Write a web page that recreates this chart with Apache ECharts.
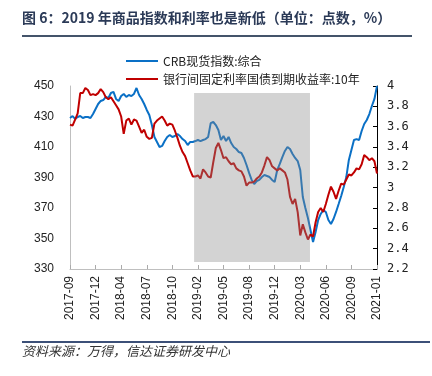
<!DOCTYPE html>
<html>
<head>
<meta charset="utf-8">
<style>
  html, body { margin: 0; padding: 0; background: #fff; }
  #chart { width: 432px; height: 376px; }
</style>
<script src="https://cdn.jsdelivr.net/npm/echarts@6/dist/echarts.min.js"></script>
</head>
<body>
<div id="chart"></div>
<script>
// 横轴刻度标签（每 10 个数据点一个）
const tickLabels = ['2017-09', '2017-12', '2018-04', '2018-07', '2018-10', '2019-02', '2019-05',
	'2019-08', '2019-12', '2020-03', '2020-06', '2020-09', '2021-01'];
const tickStep = 10;

// CRB现货指数:综合（左轴，点数）
const crbIndex = [
	429.0, 430.3, 428.4, 429.7, 430.3, 429.0, 429.7, 429.7, 429.0, 431.6,
	434.9, 438.2, 440.2, 440.8, 442.8, 442.1, 445.4, 446.1, 441.5, 440.2,
	443.4, 444.8, 442.8, 444.1, 443.4, 444.8, 448.7, 444.1, 441.5, 438.2,
	434.3, 431.0, 424.4, 416.6, 413.3, 410.0, 410.7, 413.9, 416.6, 417.9,
	416.6, 417.2, 418.5, 417.2, 415.2, 413.9, 411.3, 413.3, 413.3, 413.9,
	414.6, 413.9, 414.6, 415.2, 416.6, 425.7, 426.4, 424.4, 421.2, 414.6,
	417.2, 413.9, 416.6, 412.6, 410.0, 408.7, 406.7, 406.1, 402.8, 398.2,
	393.0, 388.4, 385.7, 387.7, 388.4, 390.3, 391.6, 391.0, 390.3, 388.4,
	387.1, 394.9, 398.9, 403.4, 407.4, 410.0, 408.7, 405.4, 402.8, 400.8,
	394.9, 377.2, 370.0, 363.4, 355.6, 347.7, 354.3, 362.1, 366.1, 368.7,
	367.4, 362.1, 359.5, 362.8, 367.4, 372.6, 377.9, 383.8, 390.3, 401.5,
	408.0, 414.6, 415.2, 414.6, 420.5, 425.1, 427.7, 431.6, 436.9, 441.5,
	450.0,
];

// 银行间固定利率国债到期收益率:10年（右轴，%）
const bondYield10y = [
	3.62, 3.61, 3.67, 3.73, 3.93, 3.93, 3.98, 3.96, 3.91, 3.92,
	3.91, 3.93, 3.97, 3.94, 3.89, 3.87, 3.89, 3.85, 3.81, 3.77,
	3.70, 3.53, 3.66, 3.68, 3.62, 3.67, 3.66, 3.60, 3.54, 3.57,
	3.50, 3.48, 3.49, 3.63, 3.66, 3.68, 3.70, 3.66, 3.61, 3.63,
	3.62, 3.56, 3.49, 3.41, 3.35, 3.31, 3.24, 3.17, 3.11, 3.11,
	3.12, 3.09, 3.18, 3.15, 3.11, 3.10, 3.25, 3.39, 3.44, 3.37,
	3.29, 3.30, 3.26, 3.23, 3.24, 3.19, 3.17, 3.16, 3.11, 3.02,
	3.05, 3.05, 3.06, 3.09, 3.11, 3.15, 3.22, 3.30, 3.27, 3.21,
	3.19, 3.17, 3.19, 3.17, 3.15, 3.08, 2.91, 2.84, 2.89, 2.76,
	2.53, 2.64, 2.56, 2.49, 2.54, 2.52, 2.66, 2.76, 2.80, 2.76,
	2.84, 2.93, 3.01, 2.96, 2.89, 2.97, 3.04, 3.03, 3.08, 3.13,
	3.12, 3.15, 3.19, 3.18, 3.23, 3.32, 3.30, 3.27, 3.29, 3.26,
	3.14,
];

// 阴影区间（数据点序号）与纵向范围（左轴点数）
const shadeFrom = 48.5;
const shadeTo = 93.8;
const shadeLow = 334.6;
const shadeHigh = 445.4;

const myChart = echarts.init(document.getElementById('chart'));
const cjk = '"Noto Sans CJK SC", sans-serif';

myChart.setOption({
	animation: false,
	grid: { left: 70, right: 55, top: 86, bottom: 107 },
	legend: {
		orient: 'vertical',
		left: 120,
		top: 50,
		itemWidth: 32,
		itemHeight: 14,
		itemGap: 6,
		// 只要线，不要圆点
		itemStyle: { opacity: 0, borderWidth: 0 },
		textStyle: { fontFamily: cjk, fontSize: 12, color: '#222' },
		data: ['CRB现货指数:综合', '银行间固定利率国债到期收益率:10年'],
	},
	xAxis: {
		type: 'value',
		min: 0,
		max: (tickLabels.length - 1) * tickStep,
		interval: tickStep,
		splitLine: { show: false },
		axisLine: { lineStyle: { color: '#bfbfbf', width: 1 } },
		axisTick: { show: true, inside: true, length: 4, lineStyle: { color: '#aaa' } },
		axisLabel: {
			rotate: 90,
			margin: 7,
			fontFamily: '"Liberation Sans", Arial, sans-serif',
			fontSize: 12,
			color: '#222',
			formatter: (v) => tickLabels[Math.round(v / tickStep)] || '',
		},
	},
	yAxis: [
		{
			type: 'value',
			min: 330,
			max: 450,
			interval: 10,
			splitLine: { show: false },
			axisLine: { show: true, lineStyle: { color: '#bfbfbf' } },
			axisTick: { show: false },
			axisLabel: {
				margin: 16,
				fontFamily: '"Liberation Sans", Arial, sans-serif',
				fontSize: 12,
				color: '#222',
				formatter: (v) => ((v - 330) % 20 === 0 ? String(v) : ''),
			},
		},
		{
			type: 'value',
			position: 'right',
			min: 2.2,
			max: 4,
			interval: 0.2,
			splitLine: { show: false },
			axisLine: { show: true, lineStyle: { color: '#000' } },
			axisTick: { show: true, inside: true, length: 4, lineStyle: { color: '#000' } },
			axisLabel: {
				margin: 10,
				fontFamily: '"DejaVu Sans Mono", monospace',
				fontSize: 12,
				color: '#222',
				formatter: (v) => String(parseFloat(v.toFixed(1))),
			},
		},
	],
	series: [
		{
			name: 'CRB现货指数:综合',
			type: 'line',
			yAxisIndex: 0,
			z: 1,
			symbol: 'none',
			lineStyle: { color: '#0a70c6', width: 2 },
			itemStyle: { color: '#0a70c6' },
			data: crbIndex.map((v, i) => [i, v]),
		},
		{
			name: '银行间固定利率国债到期收益率:10年',
			type: 'line',
			yAxisIndex: 1,
			z: 1,
			symbol: 'none',
			lineStyle: { color: '#c00000', width: 2 },
			itemStyle: { color: '#c00000' },
			data: bondYield10y.map((v, i) => [i, v]),
		},
		{
			// 灰色半透明阴影，盖在两条线上面
			name: 'shade',
			type: 'line',
			yAxisIndex: 0,
			z: 20,
			zlevel: 0,
			data: [],
			markArea: {
				silent: true,
				z: 20,
				itemStyle: { color: 'rgba(136,136,136,0.37)' },
				data: [[{ coord: [shadeFrom, shadeHigh] }, { coord: [shadeTo, shadeLow] }]],
			},
		},
	],
	graphic: [
		{
			type: 'text',
			left: 22,
			top: 11,
			style: {
				text: '图 6：2019 年商品指数和利率也是新低（单位：点数，%）',
				fontFamily: cjk,
				fontSize: 14,
				fontWeight: 'bold',
				fill: '#2b3a57',
			},
		},
		{
			type: 'line',
			shape: { x1: 22, y1: 36, x2: 412, y2: 36 },
			style: { stroke: '#44546a', lineWidth: 2 },
		},
		{
			type: 'line',
			shape: { x1: 22, y1: 342, x2: 430, y2: 342 },
			style: { stroke: '#3c5078', lineWidth: 2 },
		},
		{
			type: 'text',
			left: 22,
			top: 345,
			style: {
				text: '资料来源：万得，信达证券研发中心',
				fontFamily: cjk,
				fontSize: 13,
				fontStyle: 'italic',
				fill: '#333',
			},
		},
	],
});
</script>
</body>
</html>
